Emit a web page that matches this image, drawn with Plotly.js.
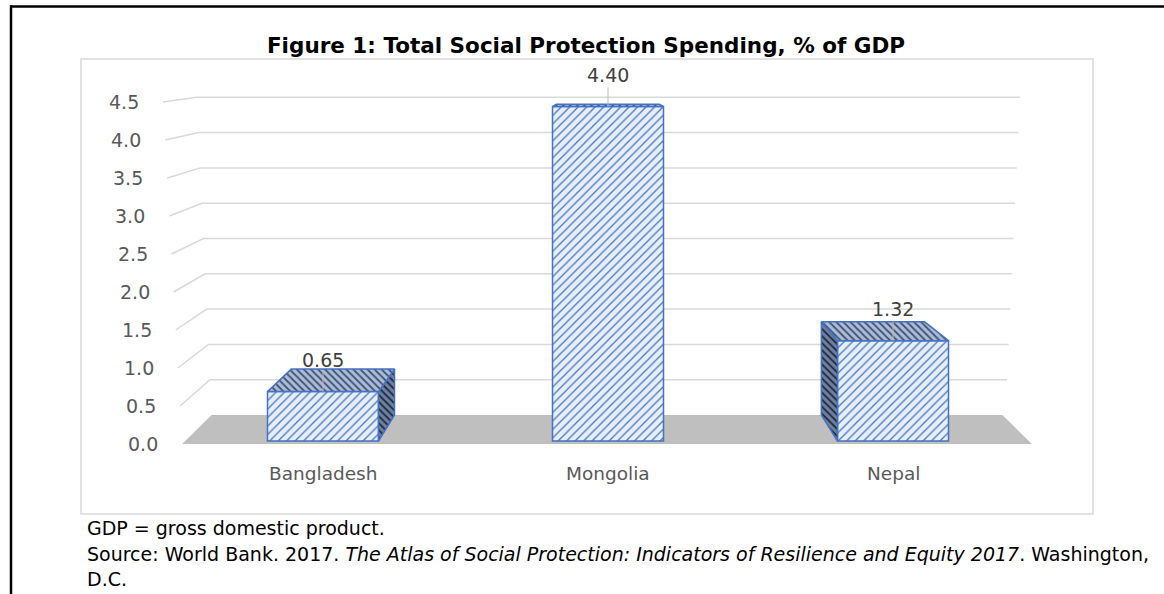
<!DOCTYPE html>
<html>
<head>
<meta charset="utf-8">
<script src="https://cdn.plot.ly/plotly-3.0.1.min.js"></script>
<style>html,body{margin:0;padding:0;background:#fff;}#chart{width:1164px;height:594px;}</style>
</head>
<body>
<div id="chart"></div>
<script>
// ---- data ----
const categories = ['Bangladesh', 'Mongolia', 'Nepal'];
const values = [0.65, 4.40, 1.32];
const valueLabels = ['0.65', '4.40', '1.32'];
const yTicks = [0, 0.5, 1, 1.5, 2, 2.5, 3, 3.5, 4, 4.5];
const yTickLabels = ['0.0', '0.5', '1.0', '1.5', '2.0', '2.5', '3.0', '3.5', '4.0', '4.5'];
const titleText = 'Figure 1: Total Social Protection Spending, % of GDP';
const noteLines = [
  'GDP = gross domestic product.',
  'Source: World Bank. 2017. <i>The Atlas of Social Protection: Indicators of Resilience and Equity 2017</i>. Washington,',
  'D.C.'
];

// ---- layout geometry (pixels) ----
const W = 1164, H = 594;
const L = 150, R = 1060, T = 60, B = 460;
const X0 = 323, XS = 285;      // category centre / spacing in px
const FY0 = 441, FYS = 76;     // front plane: value 0 pixel, px per unit
const CX = 607, DEPTH_K = 0.93;
const BAR_W_PX = 111;

const px2x = px => (px - X0) / XS;
const py2y = py => (FY0 - py) / FYS;
const pxp = px => (px - L) / (R - L);
const pyp = py => (B - py) / (B - T);

const frontPx = v => FY0 - FYS * v;
const backPx = v => 415 - 70.6 * v;
const backX = px => CX + (px - CX) * DEPTH_K;
const axisFrontY = v => 444 - 76 * v;
const axisStartX = v => 180 - (v - 0.5) * 4.25;
const axisEndX = v => 210 - (v - 0.5) * 3.25;

const FONT = '"DejaVu Sans", "Open Sans", sans-serif';

// ---- shapes: floor + 3D gridlines ----
const shapes = [];
const floorPts = [
  [axisStartX(0), axisFrontY(0)], [2 * CX - axisStartX(0), axisFrontY(0)],
  [2 * CX - axisEndX(0), backPx(0)], [axisEndX(0), backPx(0)]
];
shapes.push({
  type: 'path', xref: 'x', yref: 'y', layer: 'below',
  path: 'M' + floorPts.map(p => px2x(p[0]) + ',' + py2y(p[1])).join(' L') + ' Z',
  fillcolor: '#bfbfbf', line: {width: 0}
});
yTicks.forEach(v => {
  if (v === 0) return;
  const xs = axisStartX(v), ys = axisFrontY(v), xe = axisEndX(v), ye = backPx(v), xr = 2 * CX - xe + 3;
  shapes.push({
    type: 'path', xref: 'x', yref: 'y', layer: 'below',
    path: `M${px2x(xs)},${py2y(ys)} L${px2x(xe)},${py2y(ye)} L${px2x(xr)},${py2y(ye)}`,
    line: {color: '#d9d9d9', width: 1.5}
  });
});
// chart box
shapes.push({type: 'rect', xref: 'paper', yref: 'paper', x0: pxp(81), x1: pxp(1093), y0: pyp(514), y1: pyp(59),
  line: {color: '#d9d9d9', width: 1.5}, fillcolor: 'rgba(0,0,0,0)'});
// page frame lines
shapes.push({type: 'line', xref: 'paper', yref: 'paper', x0: pxp(10), x1: pxp(1170), y0: pyp(6.5), y1: pyp(6.5),
  line: {color: '#000', width: 2.5}});
shapes.push({type: 'line', xref: 'paper', yref: 'paper', x0: pxp(11), x1: pxp(11), y0: pyp(5.5), y1: pyp(600),
  line: {color: '#000', width: 2.5}});

// ---- traces ----
const traces = [];
const xIdx = categories.map((c, i) => i);

// side and top faces from data
values.forEach((v, i) => {
  const xl = X0 + XS * i - BAR_W_PX / 2, xr = X0 + XS * i + BAR_W_PX / 2;
  const faces = [];
  if (backX(xr) > xr + 0.5) {
    faces.push({pts: [[xr, frontPx(0)], [xr, frontPx(v)], [backX(xr), backPx(v)], [backX(xr), backPx(0)]], side: true});
  }
  if (backX(xl) < xl - 0.5) {
    faces.push({pts: [[xl, frontPx(0)], [xl, frontPx(v)], [backX(xl), backPx(v)], [backX(xl), backPx(0)]], side: true});
  }
  faces.push({pts: [[xl, frontPx(v)], [xr, frontPx(v)], [backX(xr), backPx(v)], [backX(xl), backPx(v)]], side: false});
  faces.forEach(f => {
    const xsArr = f.pts.map(p => px2x(p[0])); xsArr.push(xsArr[0]);
    const ysArr = f.pts.map(p => py2y(p[1])); ysArr.push(ysArr[0]);
    traces.push({
      type: 'scatter', mode: 'lines', x: xsArr, y: ysArr, fill: 'toself',
      fillcolor: f.side ? '#5d6d88' : '#98a9c4',
      fillpattern: {shape: '\\', fgcolor: f.side ? '#1f2a40' : '#3e5274', bgcolor: f.side ? '#6f80a0' : '#acbcd6', size: 5, solidity: 0.35},
      line: {color: '#4472c4', width: 1.5}, hoverinfo: 'skip', showlegend: false
    });
  });
});

// front faces (bars)
traces.unshift({
  type: 'bar', x: xIdx, y: values, width: BAR_W_PX / XS,
  marker: {
    color: '#dae5f4',
    line: {color: '#4472c4', width: 1.5},
    pattern: {shape: '/', fgcolor: '#4a76c6', bgcolor: '#e6eef9', size: 6, solidity: 0.22}
  },
  hoverinfo: 'skip', showlegend: false
});

// ---- annotations ----
const annotations = [];
yTicks.forEach((v, k) => {
  annotations.push({
    xref: 'paper', yref: 'paper', x: pxp(axisStartX(v) - 22), y: pyp(axisFrontY(v)),
    text: yTickLabels[k], showarrow: false, xanchor: 'right', yanchor: 'middle',
    font: {family: FONT, size: 19, color: '#595959'}
  });
});
categories.forEach((c, i) => {
  annotations.push({
    xref: 'x', yref: 'paper', x: i, y: pyp(474), text: c, showarrow: false,
    xanchor: 'center', yanchor: 'middle', font: {family: FONT, size: 18.5, color: '#595959'}
  });
});
values.forEach((v, i) => {
  annotations.push({
    xref: 'x', yref: 'y', x: i, y: v, text: valueLabels[i], showarrow: true,
    arrowhead: 0, arrowwidth: 1, arrowcolor: '#c4b8aa', ax: 0, ay: -32, standoff: 0,
    font: {family: FONT, size: 19, color: '#404040'}
  });
});
const noteY = [528, 554, 579];
noteLines.forEach((t, k) => {
  annotations.push({
    xref: 'paper', yref: 'paper', x: pxp(85), y: pyp(noteY[k]), text: t, showarrow: false,
    xanchor: 'left', yanchor: 'middle', font: {family: FONT, size: 19, color: '#000'}
  });
});

const layout = {
  width: W, height: H,
  margin: {l: L, r: W - R, t: T, b: H - B, pad: 0},
  paper_bgcolor: '#fff', plot_bgcolor: 'rgba(0,0,0,0)',
  title: {
    text: titleText, xref: 'container', yref: 'container',
    x: 586 / W, y: 1 - 45 / H, xanchor: 'center', yanchor: 'middle',
    font: {family: FONT, size: 21.5, color: '#000', weight: 'bold'}
  },
  xaxis: {range: [px2x(L), px2x(R)], visible: false, fixedrange: true},
  yaxis: {range: [py2y(B), py2y(T)], visible: false, fixedrange: true},
  showlegend: false,
  shapes: shapes,
  annotations: annotations,
  barmode: 'overlay'
};

Plotly.newPlot('chart', traces, layout, {staticPlot: true, displayModeBar: false});
</script>
</body>
</html>
